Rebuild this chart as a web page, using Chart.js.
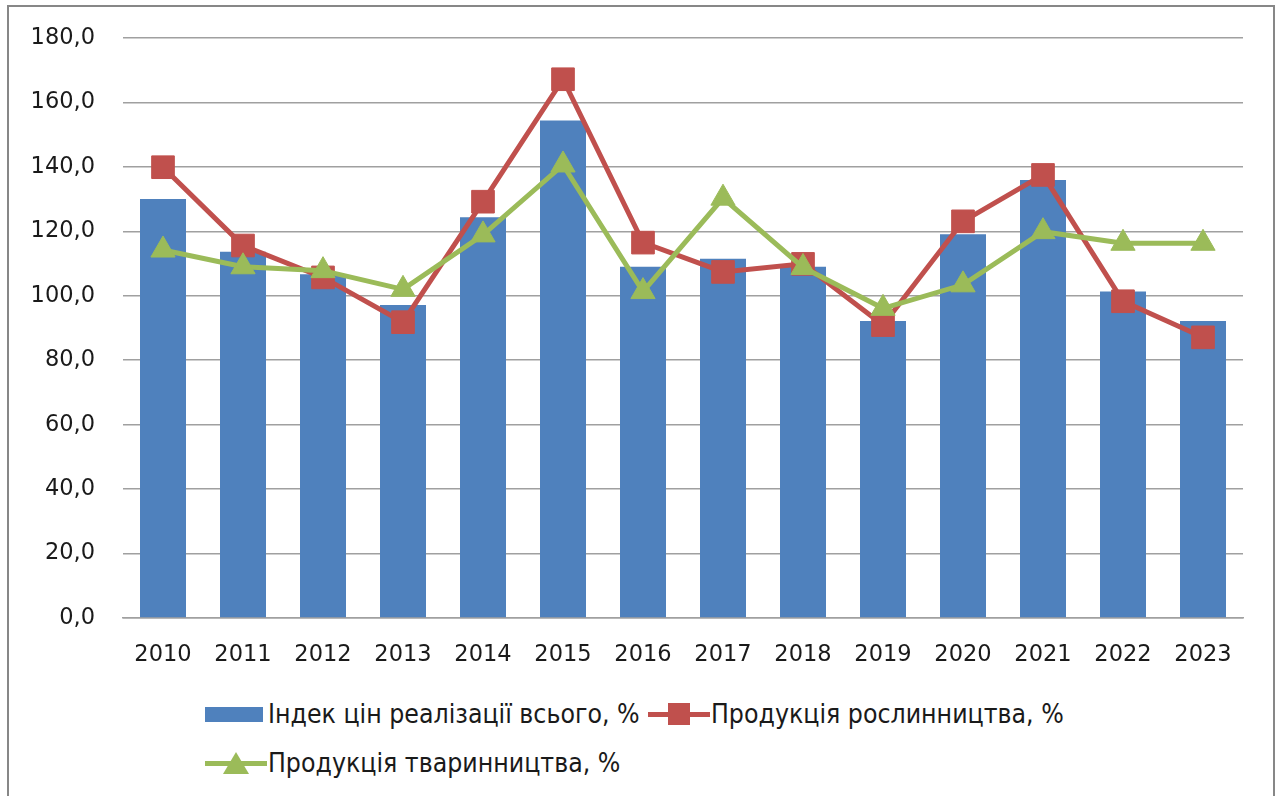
<!DOCTYPE html>
<html>
<head>
<meta charset="utf-8">
<script src="https://cdn.jsdelivr.net/npm/chart.js@4"></script>
<style>
    body { margin: 0; background: #fff; width: 1281px; height: 796px; overflow: hidden; position: relative; }
    #frame { position: absolute; left: 7px; top: 5px; width: 1264px; height: 810px; border: 2px solid #878787; }
    #wrap { position: absolute; left: 0; top: 0; width: 1281px; height: 690px; }
    .legend { position: absolute; left: 205px; font-family: "Liberation Sans Narrow", "DejaVu Sans Condensed", sans-serif; font-size: 26.4px; color: #1a1a1a; }
    .item { position: absolute; white-space: nowrap; display: flex; align-items: center; }
    .swatch { display: inline-block; position: relative; width: 60px; height: 24px; margin-right: 3px; }
    .bar { position: absolute; left: 0; top: 5px; width: 58px; height: 15px; background: #4f81bd; }
    .ln { position: absolute; left: 0; top: 10px; width: 62px; height: 5px; }
    .sq { position: absolute; left: 20px; top: 1px; width: 22px; height: 22px; background: #c0504d; }
    .tri { position: absolute; left: 18px; top: 1px; width: 0; height: 0; border-left: 13px solid transparent; border-right: 13px solid transparent; border-bottom: 22px solid #9bbb59; }
</style>
</head>
<body>
<div id="frame"></div>
<div id="wrap"><canvas id="chart"></canvas></div>
<div class="legend">
    <div class="item" style="left:0; top:698px;"><span class="swatch"><span class="bar"></span></span><span id="l1"></span></div>
    <div class="item" style="left:443px; top:698px;"><span class="swatch"><span class="ln" style="background:#c0504d"></span><span class="sq"></span></span><span id="l2"></span></div>
    <div class="item" style="left:0; top:747px;"><span class="swatch"><span class="ln" style="background:#9bbb59"></span><span class="tri"></span></span><span id="l3"></span></div>
</div>
<script>
    const YEARS = ['2010', '2011', '2012', '2013', '2014', '2015', '2016', '2017', '2018', '2019', '2020', '2021', '2022', '2023']

    // індекс цін реалізації, всього
    const TOTAL = [130.0, 113.7, 106.7, 97.1, 124.4, 154.4, 109.0, 111.5, 109.0, 92.2, 119.1, 135.9, 101.3, 92.2]
    // рослинництво
    const CROPS = [139.9, 115.6, 105.7, 91.8, 129.2, 167.2, 116.5, 107.4, 109.9, 90.9, 123.1, 137.5, 98.3, 87.1]
    // тваринництво
    const LIVESTOCK = [114.2, 109.0, 107.8, 102.0, 118.9, 140.6, 101.3, 130.3, 108.8, 96.1, 103.4, 119.9, 116.3, 116.3]

    const LABELS = ['Індек цін реалізації всього, %', 'Продукція рослинництва, %', 'Продукція тваринництва, %']

    document.getElementById('l1').textContent = LABELS[0]
    document.getElementById('l2').textContent = LABELS[1]
    document.getElementById('l3').textContent = LABELS[2]

    const TICK_FONT = { family: 'DejaVu Sans', size: 22.5 }

    new Chart(document.getElementById('chart'), {
        data: {
            labels: YEARS,
            datasets: [{
                type: 'bar',
                label: LABELS[0],
                data: TOTAL,
                backgroundColor: '#4f81bd',
                borderWidth: 0,
                categoryPercentage: 1,
                barPercentage: 0.575,
                order: 3
            }, {
                type: 'line',
                label: LABELS[1],
                data: CROPS,
                borderColor: '#c0504d',
                backgroundColor: '#c0504d',
                borderWidth: 5,
                tension: 0,
                pointStyle: 'rect',
                pointRadius: 16,
                pointHoverRadius: 16,
                pointBorderWidth: 1,
                order: 2
            }, {
                type: 'line',
                label: LABELS[2],
                data: LIVESTOCK,
                borderColor: '#9bbb59',
                backgroundColor: '#9bbb59',
                borderWidth: 5,
                tension: 0,
                pointStyle: 'triangle',
                pointRadius: 14,
                pointHoverRadius: 14,
                pointBorderWidth: 1,
                order: 1
            }]
        },
        options: {
            responsive: true,
            maintainAspectRatio: false,
            animation: false,
            layout: { autoPadding: false, padding: { left: 0, right: 38, top: 38, bottom: 12 } },
            plugins: {
                legend: { display: false },
                tooltip: { enabled: false }
            },
            scales: {
                x: {
                    grid: { display: false, drawTicks: false },
                    border: { display: true, color: '#a0a0a0', width: 1.5 },
                    ticks: { font: TICK_FONT, color: '#1a1a1a', padding: 24, maxRotation: 0 },
                    afterFit: (s) => { s.height = 60 }
                },
                y: {
                    min: 0,
                    max: 180,
                    grid: { color: '#a0a0a0', lineWidth: 1.5, drawTicks: false },
                    border: { display: false },
                    ticks: {
                        stepSize: 20,
                        font: TICK_FONT,
                        color: '#1a1a1a',
                        padding: 28,
                        callback: (v) => v.toFixed(1).replace('.', ',')
                    },
                    afterFit: (s) => {
                        s.width = 123
                        s.paddingTop = 0
                        s.paddingBottom = 0
                    }
                }
            }
        }
    })
</script>
</body>
</html>
